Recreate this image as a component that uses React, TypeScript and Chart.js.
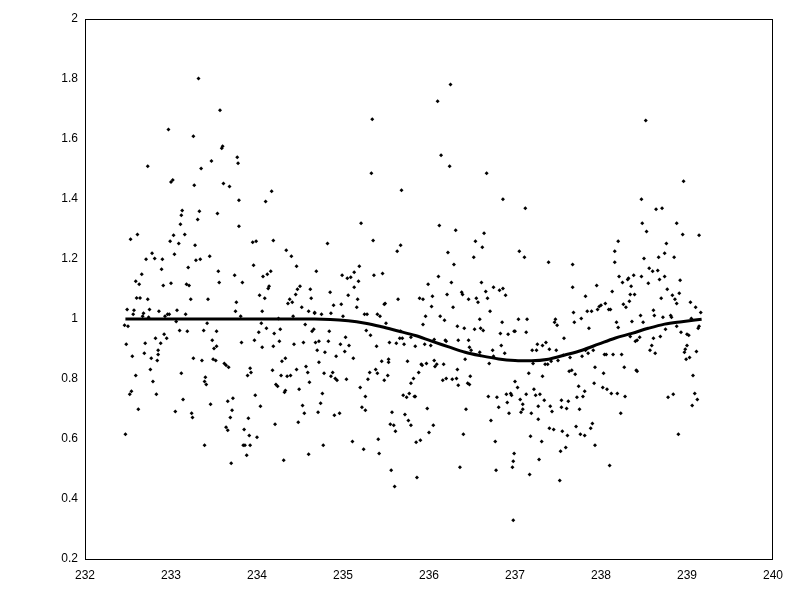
import React, { useEffect, useRef } from "react";
import { Chart, registerables } from "chart.js";

Chart.register(...registerables);

const xTicks = [232, 233, 234, 235, 236, 237, 238, 239, 240];
const yTicks = [0.2, 0.4, 0.6, 0.8, 1, 1.2, 1.4, 1.6, 1.8, 2];

const fitX = [232.47, 233.0, 233.5, 234.0, 234.5, 234.67, 235.06, 235.26, 235.45, 235.64, 235.84, 236.03, 236.22, 236.42, 236.61, 236.81, 237.0, 237.19, 237.39, 237.58, 237.78, 237.97, 238.16, 238.36, 238.55, 238.74, 238.94, 239.17];
const fitY = [1.0, 1.0, 1.0, 1.0, 1.0, 1.0, 0.994, 0.986, 0.974, 0.96, 0.945, 0.926, 0.908, 0.889, 0.877, 0.867, 0.862, 0.861, 0.866, 0.88, 0.896, 0.916, 0.936, 0.952, 0.969, 0.983, 0.991, 0.999];

const samples: [number, number][] = [
  [233.32,1.802],[232.97,1.632],[233.26,1.609],[232.73,1.509],[233.47,1.527],[233.35,1.502],[233.0,1.457],[233.02,1.463],[233.27,1.446],[233.13,1.362],
  [233.12,1.346],[233.33,1.359],[233.31,1.332],[233.11,1.316],[232.53,1.266],[232.61,1.282],[233.03,1.279],[233.16,1.282],[232.99,1.259],[233.09,1.252],
  [233.28,1.246],[232.78,1.219],[233.04,1.216],[232.71,1.199],[232.81,1.202],[232.9,1.199],[233.29,1.196],[233.34,1.199],[233.45,1.209],[232.89,1.166],
  [233.2,1.172],[232.66,1.149],[232.59,1.126],[232.63,1.116],[232.91,1.112],[233.0,1.119],[233.18,1.116],[233.21,1.112],[232.6,1.07],[232.64,1.07],
  [232.73,1.066],[233.23,1.066],[233.43,1.066],
  [232.49,1.032],[232.56,1.016],[232.57,1.029],[232.68,1.019],[232.67,1.009],[232.75,1.032],[232.74,1.006],[232.86,1.026],[232.93,1.009],[232.96,1.016],
  [232.98,1.016],[233.07,1.029],[233.17,1.016],[233.06,0.992],[233.42,0.986],[232.46,0.979],[232.5,0.976],[233.1,0.962],[233.19,0.959],[233.38,0.962],
  [232.92,0.949],[232.95,0.936],[232.82,0.936],[232.7,0.919],[232.88,0.919],[232.48,0.916],[233.48,0.929],[232.85,0.896],[232.85,0.882],[232.69,0.886],
  [233.5,0.902],[232.55,0.876],[232.77,0.869],[232.84,0.862],[233.26,0.869],[233.36,0.862],[233.49,0.866],[232.76,0.832],[233.12,0.819],[232.59,0.812],
  [232.79,0.792],[233.4,0.806],[233.39,0.792],[233.41,0.782],[232.54,0.759],[232.52,0.749],[232.83,0.749],[233.14,0.732],[233.46,0.716],[232.62,0.699],
  [233.05,0.692],[233.24,0.686],[233.25,0.672],[232.47,0.616],[233.39,0.579],
  [233.57,1.696],[233.59,1.569],[233.6,1.576],[233.77,1.539],[233.78,1.519],[233.61,1.452],[233.68,1.442],[234.17,1.426],[233.79,1.396],[234.1,1.392],
  [233.54,1.352],[233.79,1.309],[233.95,1.256],[233.99,1.259],[234.19,1.262],[234.34,1.229],[234.4,1.209],[234.46,1.176],[233.96,1.179],[233.55,1.159],
  [233.56,1.122],[233.74,1.146],[233.83,1.122],[234.07,1.142],[234.12,1.149],[234.16,1.159],[234.13,1.102],[234.14,1.109],[234.03,1.079],[234.09,1.069],
  [234.45,1.082],[234.47,1.099],[234.5,1.109],[234.62,1.099],[234.63,1.069],[234.38,1.066],
  [233.76,1.056],[233.75,1.026],[234.36,1.052],[234.41,1.056],[234.52,1.039],[234.6,1.026],[234.67,1.022],[234.06,1.026],[233.81,1.009],[234.25,1.002],
  [234.42,1.009],[234.05,0.986],[234.56,0.982],[234.11,0.969],[234.27,0.966],[234.66,0.966],[234.64,0.959],[233.53,0.959],[234.02,0.956],[234.2,0.952],
  [233.97,0.929],[233.82,0.922],[234.26,0.926],[234.54,0.922],[234.43,0.916],[233.53,0.909],[234.06,0.906],[234.19,0.909],[233.52,0.862],[233.62,0.852],
  [233.64,0.846],[233.67,0.839],[234.29,0.859],[234.33,0.869],[233.92,0.836],[233.93,0.822],[233.89,0.812],[234.18,0.829],[234.46,0.832],[234.57,0.842],
  [234.59,0.822],[234.28,0.812],[234.35,0.809],[234.39,0.812],[234.61,0.789],[234.22,0.782],[234.24,0.776],[234.32,0.756],[234.33,0.762],[234.49,0.766],
  [233.98,0.746],[233.72,0.736],[233.66,0.726],[233.71,0.696],[234.04,0.709],[234.53,0.712],[234.55,0.686],[233.69,0.672],[233.9,0.669],[233.64,0.639],
  [233.66,0.629],[233.85,0.632],[234.21,0.649],[234.48,0.656],[233.91,0.612],[234.0,0.606],[233.84,0.579],[233.86,0.579],[233.92,0.579],[233.88,0.546],
  [234.6,0.549],[234.31,0.529],[233.7,0.519],
  [235.34,1.666],[235.33,1.486],[235.68,1.429],[235.21,1.319],[234.82,1.252],[235.35,1.262],[235.67,1.246],[235.63,1.226],[234.69,1.159],[235.19,1.176],
  [234.99,1.146],[235.05,1.136],[235.09,1.139],[235.13,1.156],[235.18,1.126],[235.36,1.146],[235.46,1.152],[235.13,1.106],[234.85,1.089],[235.06,1.079],
  [235.17,1.066],[235.64,1.066],
  [234.89,1.046],[234.98,1.049],[235.16,1.039],[235.48,1.049],[235.49,1.052],[234.75,1.016],[234.86,1.019],[235.0,1.009],[235.25,1.016],[235.28,1.016],
  [235.4,1.016],[235.43,1.009],[234.67,1.019],[235.5,0.986],[234.84,0.959],[235.27,0.962],[235.32,0.946],[235.67,0.959],[235.69,0.936],[235.66,0.936],
  [235.03,0.939],[235.79,0.939],[234.68,0.922],[234.72,0.926],[234.83,0.926],[234.97,0.916],[235.07,0.912],[235.54,0.922],[235.62,0.919],[235.71,0.916],
  [235.39,0.909],[234.7,0.896],[234.79,0.889],[235.02,0.892],[234.92,0.876],[235.12,0.869],[235.45,0.859],[235.53,0.866],[235.53,0.856],[235.75,0.859],
  [234.72,0.856],[234.78,0.819],[234.88,0.822],[234.86,0.809],[234.91,0.802],[234.93,0.796],[235.04,0.799],[235.31,0.822],[235.29,0.799],[235.38,0.832],
  [235.4,0.819],[235.48,0.796],[235.52,0.812],[235.82,0.802],[235.79,0.786],[235.2,0.772],[234.76,0.752],[235.26,0.742],[235.7,0.746],[235.74,0.739],
  [235.77,0.752],[235.83,0.742],[234.74,0.719],[235.22,0.706],[235.26,0.696],[234.71,0.689],[234.9,0.679],[234.96,0.686],[235.57,0.689],[235.72,0.682],
  [235.76,0.662],[235.79,0.646],[235.55,0.649],[235.59,0.646],[235.61,0.626],[235.41,0.599],[235.11,0.592],[234.77,0.579],[235.24,0.566],[235.42,0.552],
  [235.56,0.496],[235.6,0.442],
  [236.25,1.782],[236.1,1.726],[236.14,1.546],[236.24,1.509],[236.67,1.486],[236.86,1.399],[236.12,1.312],[236.31,1.296],[236.64,1.286],[236.54,1.259],
  [236.62,1.239],[236.22,1.222],[236.52,1.206],[236.29,1.182],[236.11,1.142],[235.99,1.116],[236.26,1.122],[236.61,1.122],[236.04,1.076],[236.21,1.082],
  [236.38,1.089],[236.39,1.082],[236.66,1.092],[236.75,1.106],[236.82,1.096],[236.86,1.102],[236.89,1.079],[235.89,1.069],[235.93,1.066],[236.55,1.069],
  [236.68,1.069],[236.46,1.066],
  [236.03,1.042],[236.28,1.039],[236.57,1.056],[236.71,1.026],[235.96,1.009],[236.13,1.009],[236.18,0.996],[236.59,0.999],[236.85,0.989],[236.33,0.976],
  [236.41,0.969],[236.53,0.966],[236.6,0.969],[236.63,0.962],[235.93,0.982],[236.83,0.952],[236.92,0.949],[236.99,0.959],[236.06,0.932],[236.19,0.929],
  [236.2,0.926],[236.34,0.929],[236.46,0.929],[235.84,0.909],[235.95,0.916],[236.02,0.912],[236.47,0.906],[236.49,0.896],[236.59,0.889],[236.84,0.912],
  [236.74,0.896],[236.88,0.886],[236.75,0.876],[236.42,0.866],[236.06,0.862],[236.17,0.849],[236.07,0.842],[236.09,0.849],[235.91,0.849],[235.92,0.846],
  [235.97,0.852],[236.7,0.852],[235.88,0.822],[236.33,0.832],[236.48,0.809],[236.16,0.796],[236.2,0.802],[236.27,0.799],[236.32,0.802],[236.34,0.779],
  [236.45,0.786],[236.47,0.782],[235.84,0.742],[236.69,0.742],[236.79,0.739],[236.9,0.749],[236.95,0.752],[236.96,0.746],[236.91,0.722],[235.98,0.702],
  [236.43,0.699],[236.81,0.706],[236.93,0.686],[236.72,0.662],[236.05,0.646],[236.0,0.622],[236.4,0.616],[235.85,0.589],[235.9,0.596],[236.77,0.592],
  [236.99,0.552],[236.98,0.526],[236.97,0.506],[236.36,0.506],[236.78,0.496],[235.86,0.472],[236.98,0.329],
  [237.12,1.369],[237.05,1.226],[237.11,1.206],[237.39,1.189],[237.67,1.182],[238.16,1.226],[238.16,1.189],[237.67,1.106],[237.82,1.076],[237.95,1.112],
  [238.13,1.092],
  [237.04,0.999],[237.14,0.999],[237.0,0.959],[237.13,0.956],[237.46,0.989],[237.47,0.999],[237.49,0.979],[237.68,1.022],[237.69,0.989],[237.77,1.002],
  [237.84,1.026],[237.89,1.026],[237.86,0.969],[237.96,1.032],[237.98,1.042],[238.0,1.046],[238.05,1.052],[238.09,1.032],[238.11,1.032],[237.57,0.936],
  [237.26,0.916],[237.32,0.912],[237.36,0.922],[237.2,0.896],[237.25,0.896],[237.4,0.899],[237.48,0.896],[237.82,0.896],[237.85,0.886],[237.91,0.896],
  [238.04,0.882],[238.06,0.882],[238.14,0.882],[237.56,0.879],[237.64,0.872],[237.78,0.876],[237.42,0.859],[237.5,0.862],[237.21,0.852],[237.35,0.849],
  [237.38,0.849],[237.93,0.839],[237.63,0.826],[237.66,0.829],[237.7,0.816],[237.16,0.819],[238.03,0.819],[237.32,0.809],[237.0,0.792],[237.92,0.786],
  [237.03,0.772],[237.74,0.776],[238.02,0.772],[238.07,0.766],[238.12,0.752],[237.22,0.766],[237.81,0.759],[237.13,0.749],[237.24,0.746],[237.29,0.749],
  [237.72,0.739],[237.79,0.742],[237.06,0.732],[237.09,0.716],[237.54,0.729],[237.62,0.726],[237.34,0.729],[237.27,0.709],[237.41,0.709],[237.54,0.706],
  [237.6,0.702],[237.09,0.699],[237.07,0.689],[237.43,0.692],[237.19,0.686],[237.75,0.699],[237.27,0.666],[237.9,0.652],[237.88,0.636],[237.71,0.642],
  [237.4,0.636],[237.45,0.632],[237.55,0.626],[237.76,0.616],[237.81,0.612],[237.61,0.612],[237.18,0.609],[237.31,0.592],[237.93,0.579],[237.59,0.572],
  [237.53,0.559],[237.28,0.532],[237.17,0.482],[238.1,0.512],[237.52,0.462],
  [238.52,1.662],[238.96,1.459],[238.47,1.399],[238.64,1.366],[238.71,1.369],[238.48,1.319],[238.53,1.292],[238.88,1.319],[238.95,1.282],[239.14,1.279],
  [238.2,1.259],[238.76,1.252],[238.74,1.219],[238.5,1.202],[238.67,1.206],[238.85,1.206],[238.56,1.169],[238.6,1.159],[238.66,1.162],[238.21,1.142],
  [238.25,1.122],[238.31,1.132],[238.32,1.136],[238.38,1.146],[238.47,1.142],[238.35,1.109],[238.55,1.119],[238.68,1.132],[238.74,1.142],[238.92,1.129],
  [238.77,1.099],[238.34,1.082],[238.39,1.082],[238.83,1.079],[238.91,1.086],[238.7,1.069],[238.86,1.066],
  [238.26,1.049],[238.29,1.039],[238.33,1.059],[238.61,1.029],[238.62,1.012],[238.46,1.012],[238.72,1.006],[238.81,1.012],[238.82,1.006],[238.88,1.052],
  [239.04,1.056],[239.1,1.039],[239.16,1.022],[238.18,0.989],[238.2,0.972],[238.36,0.992],[238.49,0.989],[238.88,0.976],[238.75,0.966],[239.05,1.002],
  [239.13,0.969],[239.14,0.976],[238.93,0.956],[239.0,0.949],[239.02,0.946],[238.34,0.942],[238.45,0.939],[238.69,0.942],[238.61,0.936],[238.4,0.926],
  [238.42,0.929],[238.59,0.912],[238.57,0.896],[238.63,0.886],[239.0,0.912],[238.98,0.899],[238.97,0.889],[239.11,0.892],[238.24,0.882],[238.99,0.866],
  [239.03,0.872],[238.27,0.839],[238.41,0.829],[238.42,0.826],[239.07,0.812],[238.19,0.752],[238.28,0.742],[238.78,0.739],[238.84,0.749],[239.09,0.752],
  [239.12,0.732],[239.06,0.712],[238.23,0.686],[238.9,0.616],
];

const FONT = { family: "'Liberation Sans', Arial, sans-serif", size: 12 };

const framePlugin = {
  id: "frame",
  afterDatasetsDraw(chart: any) {
    const { ctx, chartArea } = chart;
    ctx.save();
    ctx.strokeStyle = "#000";
    ctx.lineWidth = 1;
    ctx.strokeRect(chartArea.left + 0.5, chartArea.top + 0.5, chartArea.right - chartArea.left - 1, chartArea.bottom - chartArea.top);
    ctx.restore();
  },
};

export default function App() {
  const ref = useRef<HTMLCanvasElement | null>(null);
  useEffect(() => {
    if (!ref.current) return;
    const chart = new Chart(ref.current, {
      type: "scatter",
      data: {
        datasets: [
          {
            type: "line",
            data: fitX.map((x, i) => ({ x, y: fitY[i] })),
            borderColor: "#000",
            borderWidth: 3,
            pointRadius: 0,
            cubicInterpolationMode: "monotone",
            fill: false,
          } as any,
          {
            type: "scatter",
            data: samples.map(([x, y]) => ({ x, y })),
            pointStyle: "rectRot",
            pointRadius: 2,
            backgroundColor: "#000",
            borderColor: "#000",
            borderWidth: 0,
          },
        ],
      },
      options: {
        animation: false,
        responsive: true,
        maintainAspectRatio: false,
        layout: { padding: { top: 19, right: 27, left: 0, bottom: 0 } },
        plugins: { legend: { display: false }, tooltip: { enabled: false } },
        scales: {
          x: {
            type: "linear",
            min: 232,
            max: 240,
            grid: { display: false, drawTicks: false },
            border: { display: false },
            afterBuildTicks: (s: any) => { s.ticks = xTicks.map((v) => ({ value: v })); },
            afterFit: (s: any) => { s.height = 41; },
            ticks: { color: "#000", font: FONT, padding: 9, maxRotation: 0, callback: (v: any) => String(v) },
          },
          y: {
            type: "linear",
            min: 0.2,
            max: 2,
            grid: { display: false, drawTicks: false },
            border: { display: false },
            afterBuildTicks: (s: any) => { s.ticks = yTicks.map((v) => ({ value: v })); },
            afterFit: (s: any) => { s.width = 85; },
            ticks: { color: "#000", font: FONT, padding: 7, callback: (v: any) => String(Number(Number(v).toFixed(1))) },
          },
        },
      },
      plugins: [framePlugin],
    });
    return () => chart.destroy();
  }, []);
  return (
    <div style={{ position: "absolute", left: 0, top: 0, width: 800, height: 600, background: "#fff" }}>
      <canvas ref={ref} />
    </div>
  );
}
